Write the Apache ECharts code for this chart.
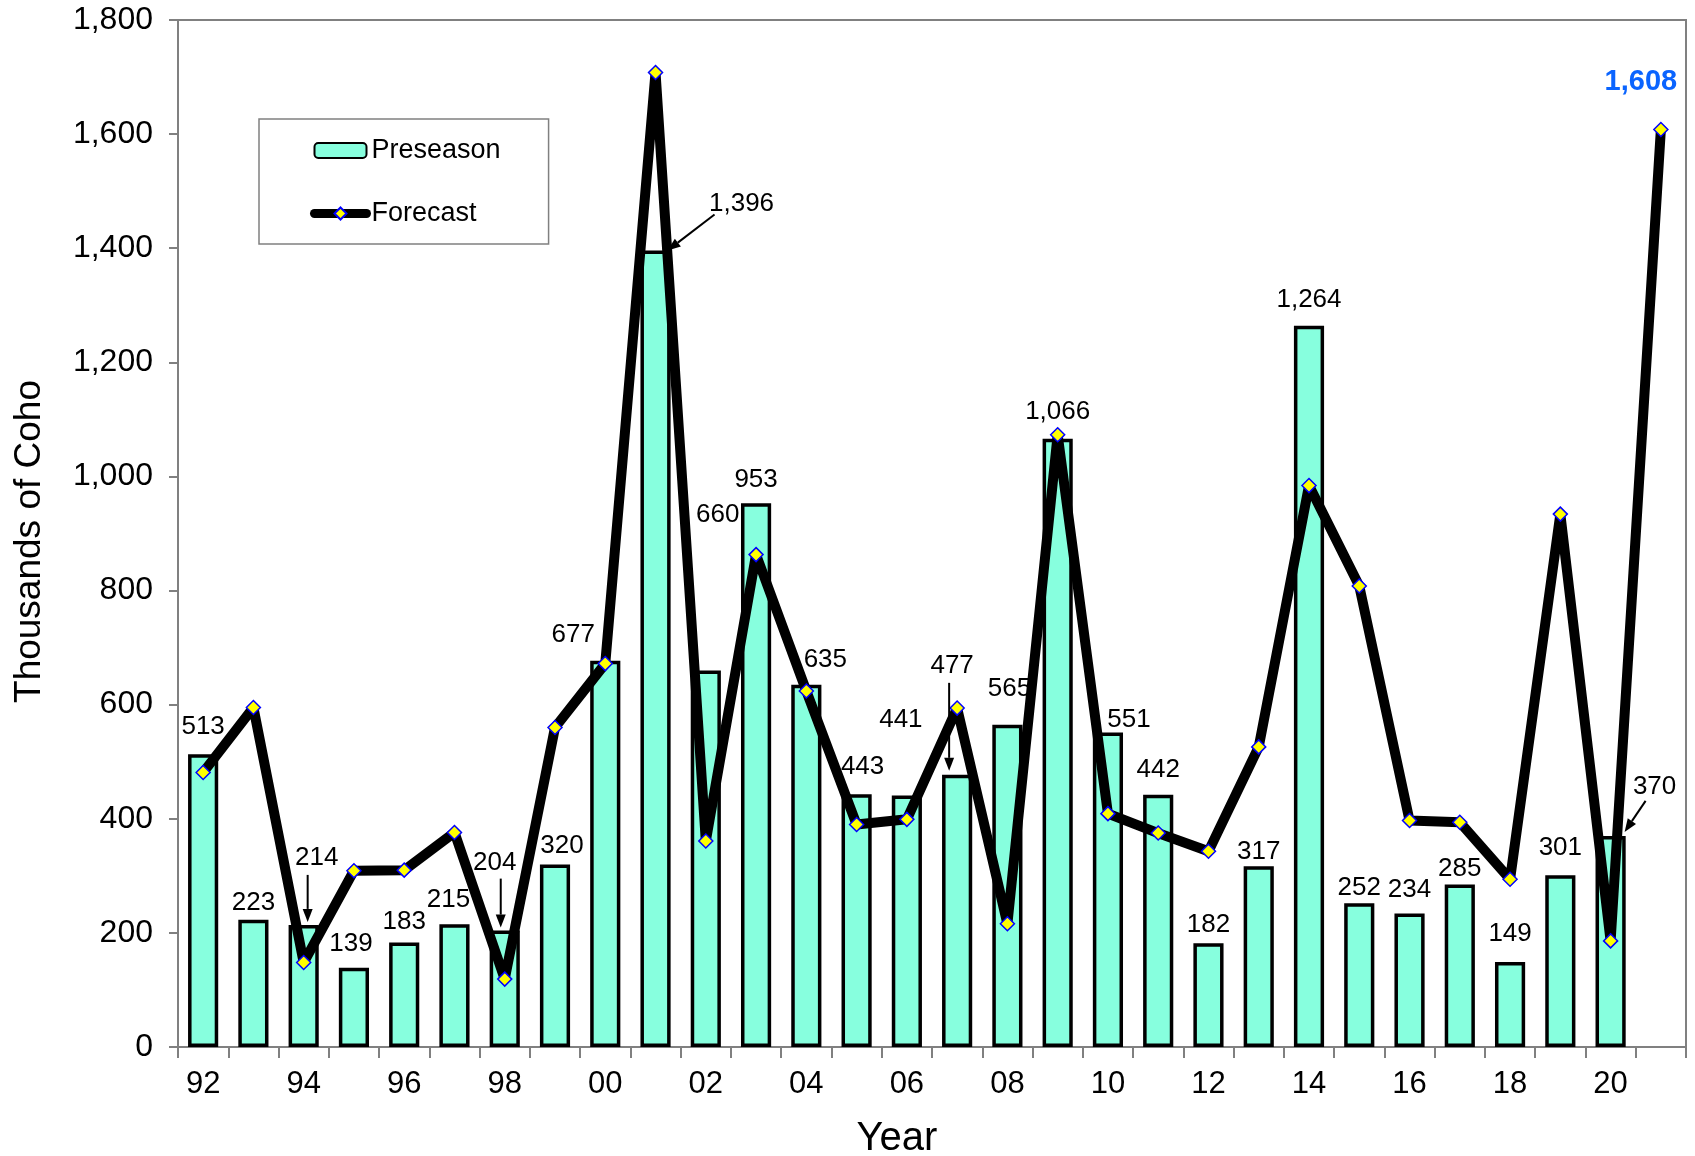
<!DOCTYPE html>
<html><head><meta charset="utf-8">
<script src="https://cdn.jsdelivr.net/npm/echarts@6/dist/echarts.min.js"></script>
<style>html,body{margin:0;padding:0;background:#fff}#c{width:1695px;height:1156px}</style>
</head><body><div id="c"></div>
<script>
// ---- data ----
const years = ['92','93','94','95','96','97','98','99','00','01','02','03','04','05','06','07','08','09','10','11','12','13','14','15','16','17','18','19','20','21'];
const preseason = [513,223,214,139,183,215,204,320,677,1396,660,953,635,443,441,477,565,1066,551,442,182,317,1264,252,234,285,149,301,370,null];
const forecast = [481,595,148,309,310,376,119,560,672,1708,361,863,624,390,399,594,216,1073,409,375,343,526,984,808,397,394,294,934,186,1608];
const yMin = 0, yMax = 1800, yStep = 200;
const seriesNames = ['Preseason','Forecast'];
const yTitle = 'Thousands of Coho';
const xTitle = 'Year';

// ---- label placement (annotation nudges in px, per bar) ----
const labelNudge = [[0,-9],[0,1],[13,-49],[-3,-6],[0,-3],[-6,-7],[-10,-50],[7,-1],[-32,-8],[86,-29],
  [12,-138],[0,-5],[19,-7],[6,-9],[-6,-58],[-5,-91],[2,-18],[0,-9],[21,5],[0,-7],
  [0,0],[0,4],[0,-8],[0,3],[0,-6],[0,2],[0,-10],[0,-9],[44,-31]];
const arrowNotes = [
  {i:2, from:[4,-50], to:[4,-3]},
  {i:6, from:[-4,-52], to:[-4,-3]},
  {i:9, from:[59,-36], to:[12,0]},
  {i:15, from:[-8,-92], to:[-8,-4]},
  {i:28, from:[35,-35], to:[14,-4]}
];

const FONT = '"Liberation Sans", Arial, sans-serif';
const fmt = v => Number(v).toLocaleString('en-US');

const chart = echarts.init(document.getElementById('c'), null, {renderer:'canvas'});

const barData = preseason.map((v,i) => {
  if (v == null) return null;
  const n = labelNudge[i] || [0,0];
  return {value:v, label:{offset:n}};
});
const lineData = forecast.map((v,i) => {
  if (i === forecast.length-1) {
    return {value:v, label:{show:true, position:'top', offset:[-20,-20], color:'#0a64ff', fontWeight:'bold', fontSize:29, fontFamily:FONT, formatter:p=>fmt(p.value)}};
  }
  return v;
});

chart.setOption({
  animation:false,
  backgroundColor:'#fff',
  grid:{left:178, right:9, top:20, bottom:109, containLabel:false, outerBoundsMode:'none',
        show:true, borderColor:'#808080', borderWidth:2, backgroundColor:'transparent'},
  legend:{
    orient:'vertical', left:259, top:119, padding:[18,48,17,51], itemGap:36,
    itemWidth:52, itemHeight:15, borderColor:'#808080', borderWidth:1.5,
    textStyle:{fontSize:27, color:'#000', fontFamily:FONT},
    data:[
      {name:seriesNames[0]},
      {name:seriesNames[1], lineStyle:{width:9, color:'#000', cap:'round'}}
    ]
  },
  xAxis:{
    type:'category', data:years, boundaryGap:true,
    name:xTitle, nameLocation:'middle', nameGap:72,
    nameTextStyle:{fontSize:40, color:'#000', fontFamily:FONT, padding:[0,70,0,0]},
    axisLine:{show:true, lineStyle:{color:'#808080', width:2}},
    axisTick:{show:true, interval:0, length:11, lineStyle:{color:'#808080', width:2}},
    axisLabel:{interval:1, margin:22, fontSize:31, color:'#000', fontFamily:FONT},
    splitLine:{show:false}
  },
  yAxis:{
    type:'value', min:yMin, max:yMax, interval:yStep,
    name:yTitle, nameLocation:'middle', nameGap:130,
    nameTextStyle:{fontSize:37, color:'#000', fontFamily:FONT, padding:[0,16,0,0]},
    axisLine:{show:true, lineStyle:{color:'#808080', width:2}},
    axisTick:{show:true, length:9, lineStyle:{color:'#808080', width:2}},
    axisLabel:{margin:25, fontSize:32, color:'#000', fontFamily:FONT, formatter:v=>fmt(v)},
    splitLine:{show:false}
  },
  series:[
    {
      name:seriesNames[0], type:'bar', data:barData, barWidth:'60%', z:2,
      itemStyle:{color:'#87ffde', borderColor:'#000', borderWidth:3.5},
      label:{show:true, position:'top', distance:5, fontSize:26, color:'#000', fontFamily:FONT, formatter:p=>fmt(p.value)}
    },
    {
      name:seriesNames[1], type:'line', data:lineData, z:3,
      lineStyle:{color:'#000', width:10, join:'round'},
      symbol:'diamond', symbolSize:14, showAllSymbol:true,
      itemStyle:{color:'#ffff00', borderColor:'#0000ff', borderWidth:1.5},
      label:{show:false}
    }
  ]
});

// annotation arrows anchored to bar tops via the chart's scales
const g = [];
arrowNotes.forEach(a => {
  const p = chart.convertToPixel({seriesIndex:0}, [a.i, preseason[a.i]]);
  const x1 = p[0]+a.from[0], y1 = p[1]+a.from[1];
  const x2 = p[0]+a.to[0], y2 = p[1]+a.to[1];
  const ang = Math.atan2(y2-y1, x2-x1);
  const L = 13, W = 5;
  const bx = x2 - L*Math.cos(ang), by = y2 - L*Math.sin(ang);
  g.push({type:'line', z:10, shape:{x1:x1, y1:y1, x2:bx, y2:by}, style:{stroke:'#000', lineWidth:2}});
  g.push({type:'polygon', z:10, shape:{points:[[x2,y2],[bx - W*Math.sin(ang), by + W*Math.cos(ang)],[bx + W*Math.sin(ang), by - W*Math.cos(ang)]]}, style:{fill:'#000'}});
});
chart.setOption({graphic:g});
</script>
</body></html>
